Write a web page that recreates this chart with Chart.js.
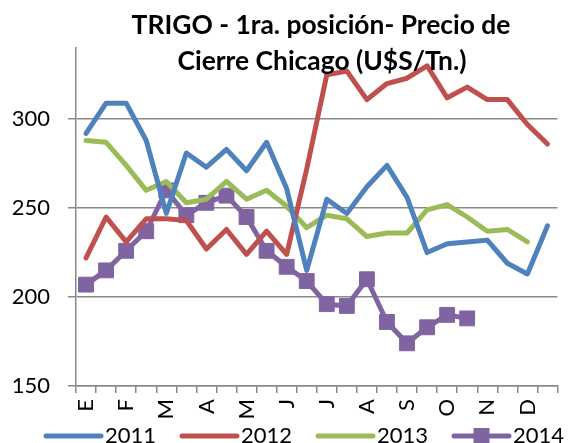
<!DOCTYPE html>
<html><head><meta charset="utf-8">
<script src="https://cdn.jsdelivr.net/npm/chart.js@4"></script>
<style>html,body{margin:0;padding:0;background:#fff;overflow:hidden;width:569px;height:443px}
#wrap{position:relative;width:569px;height:443px}</style>
</head><body><div id="wrap"><canvas id="c" width="569" height="443"></canvas></div>
<script>
// ---- data ----
const categories = ['E','','F','','M','','A','','M','','J','','J','','A','','S','','O','','N','','D',''];
const seriesNames = ['2011','2012','2013','2014'];
const values2011 = [292, 309, 309, 288, 247, 281, 273, 283, 271, 287, 261, 215, 255, 247, 262, 274, 256, 225, 230, 231, 232, 219, 213, 240];
const values2012 = [222, 245, 231, 244, 244, 243, 227, 238, 224, 237, 224, 272, 325, 327, 311, 320, 323, 330, 312, 318, 311, 311, 297, 286];
const values2013 = [288, 287, 274, 260, 265, 253, 255, 265, 255, 260, 251, 239, 246, 244, 234, 236, 236, 249, 252, 245, 237, 238, 231, null];
const values2014 = [207, 215, 226, 237, 260, 246, 253, 257, 245, 226, 217, 209, 196, 195, 210, 186, 174, 183, 190, 188, null, null, null, null];
const yTickValues = [150, 200, 250, 300];
const titleLines = ['TRIGO - 1ra. posición- Precio de', 'Cierre Chicago (U$S/Tn.)'];

// ---- styles ----
const colors = ['#4F81BD', '#C0504D', '#9BBB59', '#8064A2'];
const FONT = 'Lato, "Open Sans", sans-serif';
const AXIS = '#898989';

const titlePlugin = {
  id: 'titleText',
  afterDraw(chart) {
    const ctx = chart.ctx;
    ctx.save();
    let size = 24;
    ctx.font = `bold ${size}px ${FONT}`;
    const w = ctx.measureText(titleLines[0]).width;
    size = size * 379 / w;
    ctx.font = `bold ${size}px ${FONT}`;
    ctx.fillStyle = '#000';
    ctx.textAlign = 'center';
    ctx.textBaseline = 'alphabetic';
    ctx.fillText(titleLines[0], 321, 34);
    ctx.fillText(titleLines[1], 322, 70);
    ctx.restore();
  }
};

const legendPlugin = {
  id: 'customLegend',
  afterDraw(chart) {
    const ctx = chart.ctx;
    ctx.save();
    ctx.font = `22px ${FONT}`;
    const y = 436;
    chart.data.datasets.forEach((ds, i) => {
      const x0 = 46 + 136 * i;
      ctx.strokeStyle = ds.borderColor;
      ctx.lineWidth = 5;
      ctx.lineCap = 'round';
      ctx.beginPath(); ctx.moveTo(x0, y); ctx.lineTo(x0 + 55, y); ctx.stroke();
      if (ds.pointRadius > 0) {
        ctx.fillStyle = ds.backgroundColor;
        ctx.fillRect(x0 + 27.5 - 8, y - 8, 16, 16);
      }
      ctx.fillStyle = '#000';
      ctx.textAlign = 'left';
      ctx.textBaseline = 'alphabetic';
      ctx.fillText(ds.label, x0 + 59, 443);
    });
    ctx.restore();
  }
};

const seriesValues = [values2011, values2012, values2013, values2014];
const datasets = seriesNames.map((name, i) => ({
  label: name,
  data: seriesValues[i],
  borderColor: colors[i],
  backgroundColor: colors[i],
  borderWidth: 5,
  borderJoinStyle: 'round',
  borderCapStyle: 'round',
  tension: 0,
  spanGaps: false,
  pointStyle: 'rect',
  pointRadius: i === 3 ? 10.5 : 0,
  pointHoverRadius: i === 3 ? 10.5 : 0,
  pointBorderWidth: 1,
  pointBorderColor: colors[i],
  pointBackgroundColor: colors[i]
}));

new Chart(document.getElementById('c'), {
  type: 'line',
  data: { labels: categories, datasets },
  options: {
    responsive: false,
    animation: false,
    layout: { padding: { top: 48, left: 0, right: 0, bottom: 0 } },
    plugins: { legend: { display: false }, title: { display: false }, tooltip: { enabled: false } },
    scales: {
      x: {
        type: 'category',
        offset: true,
        grid: { display: true, drawOnChartArea: false, drawTicks: true, tickLength: 7, color: AXIS, lineWidth: 1.5, offset: true },
        border: { display: true, color: AXIS, width: 1.5 },
        ticks: { autoSkip: false, minRotation: 90, maxRotation: 90, padding: 6, color: '#000', font: { family: FONT, size: 22 } },
        afterFit(s) { s.height = 57; s.paddingLeft = 0; s.paddingRight = 0; }
      },
      y: {
        min: 150, max: 340,
        afterBuildTicks(s) { s.ticks = yTickValues.map(v => ({ value: v })); },
        grid: { color: AXIS, lineWidth: 1.5, tickLength: 8, drawTicks: true },
        border: { display: true, color: AXIS, width: 1.5 },
        ticks: { padding: 18, color: '#000', font: { family: FONT, size: 22 } },
        afterFit(s) { s.width = 76; s.paddingTop = 0; s.paddingBottom = 0; }
      }
    }
  },
  plugins: [titlePlugin, legendPlugin]
});
</script></body></html>
